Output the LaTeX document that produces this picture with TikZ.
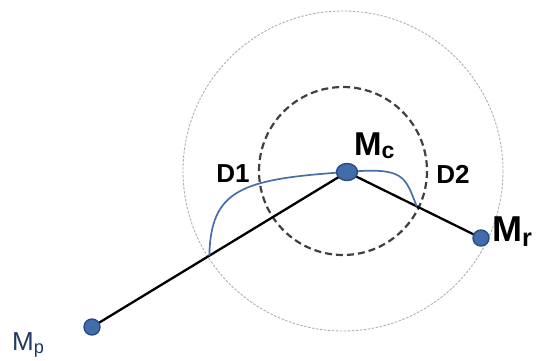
\documentclass[tikz,border=0pt]{standalone}
\usepackage{fontspec}
\setmainfont{Liberation Sans}
\usetikzlibrary{positioning, calc, shapes.geometric}
\definecolor{dotblue}{RGB}{66, 108, 170}
\definecolor{dotrim}{RGB}{40, 76, 132}
\definecolor{curveblue}{RGB}{72, 110, 168}
\definecolor{ringgray}{RGB}{175, 175, 175}
\definecolor{navytext}{RGB}{31, 56, 100}

\tikzset{
  dot/.style={ellipse, fill=dotblue, draw=dotrim, line width=1.4pt, inner sep=0pt},
  lbl/.style={font=\bfseries\fontsize{26pt}{30pt}\selectfont, inner sep=0pt},
  mlbl/.style={anchor=base west, inner sep=0pt}
}

\begin{document}
\begin{tikzpicture}[x=1pt, y=-1pt]
  \useasboundingbox (0,0) rectangle (547,360);

  % Centre of the circles
  \coordinate (ctr) at (343,171);

  % Circles
  \draw[color=ringgray, line width=0.9pt, dash pattern=on 2.5pt off 1.5pt] (ctr) circle (160);
  \draw[color=black!75, line width=2.2pt, dash pattern=on 7pt off 4pt] (ctr) circle (84);

  % Points
  \coordinate (Mc) at (347,172);
  \coordinate (Mp) at (92,327);
  \coordinate (Mr) at (481,238);

  \coordinate (E1) at ($(Mc)!0.54!(Mp)$);
  \coordinate (E2) at ($(Mc)!0.52!(Mr)$);

  % Segments
  \draw[line width=2.3pt] (Mp) -- (Mc) -- (Mr);
  \draw[color=curveblue, line width=1.7pt]
    (E1) .. controls (211,190) and (240,179) .. (Mc)
    .. controls (404,167) and (405,176) .. (E2);

  % Dots
  \node[dot, minimum width=21pt, minimum height=17pt] (Mcdot) at (Mc) {};
  \node[dot, minimum size=16pt] (Mpdot) at (Mp) {};
  \node[dot, minimum size=16pt] (Mrdot) at (Mr) {};

  % Labels
  \node[lbl] (D1) at (233,174) {D1};
  \node[lbl] (D2) at (453,174) {D2};
  \node[mlbl, font=\bfseries\fontsize{33pt}{36pt}\selectfont] (Mclbl) at (354,155) {M\textsubscript{c}};
  \node[mlbl, font=\bfseries\fontsize{36pt}{40pt}\selectfont] (Mrlbl) at (492,241) {M\textsubscript{r}};
  \node[mlbl, font=\fontsize{26pt}{30pt}\selectfont, color=navytext] (Mplbl) at (12,350) {M\textsubscript{p}};
\end{tikzpicture}
\end{document}
